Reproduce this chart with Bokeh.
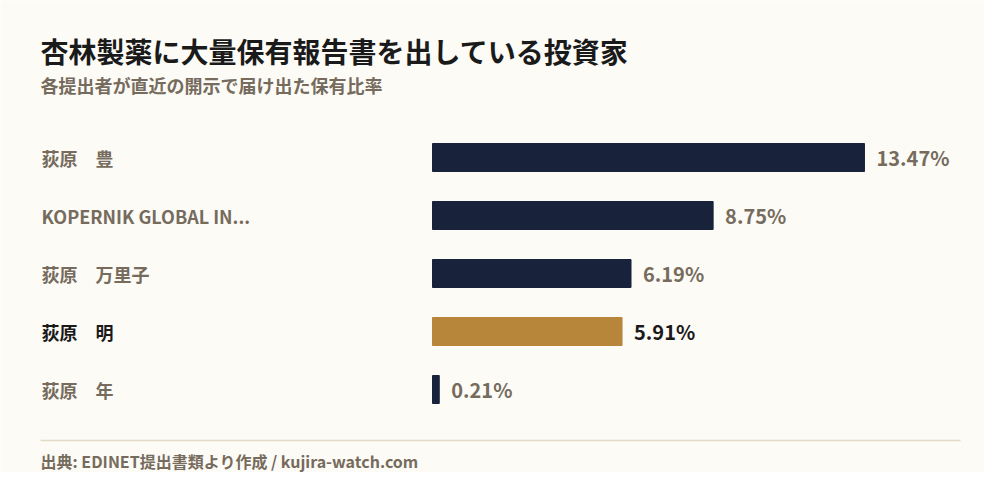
from bokeh.plotting import figure
from bokeh.models import ColumnDataSource, Label, Range1d
from bokeh.core.properties import value
from bokeh.embed import file_html
from bokeh.resources import INLINE

# -----------------------------
# DATA
# -----------------------------
names = ["荻原　豊", "KOPERNIK GLOBAL IN...", "荻原　万里子", "荻原　明", "荻原　年"]
ratios = [13.47, 8.75, 6.19, 5.91, 0.21]
ratio_labels = ["13.47%", "8.75%", "6.19%", "5.91%", "0.21%"]
highlight = [False, False, False, True, False]

title_text = "杏林製薬に大量保有報告書を出している投資家"
subtitle_text = "各提出者が直近の開示で届け出た保有比率"
source_text = "出典: EDINET提出書類より作成 / kujira-watch.com"

# -----------------------------
# LAYOUT (pixels)
# -----------------------------
W, H = 984, 472
X0 = 432            # where 0% sits
PX_PER_PCT = 32.07  # px per percentage point
ROW = 58            # row spacing
TOP_ROW = 157       # centre of first row from top
BAR_H = 28

FONT_NAME = "Noto Sans CJK JP"
FONT = value(FONT_NAME)
BG = "#fcfbf6"
NAVY = "#18223a"
GOLD = "#b8863b"
MUTED = "#766b5d"
INK = "#1a1a1a"

x_start = -X0 / PX_PER_PCT
x_end = (W - X0) / PX_PER_PCT
y_top = -TOP_ROW / ROW
y_bottom = y_top + H / ROW


def px_x(px):
    return (px - X0) / PX_PER_PCT


def px_y(px_from_top):
    return y_top + px_from_top / ROW


src = ColumnDataSource(data=dict(
    idx=list(range(len(names))),
    name=names,
    ratio=ratios,
    label=ratio_labels,
    bar_color=[GOLD if h else NAVY for h in highlight],
    text_color=[INK if h else MUTED for h in highlight],
))

p = figure(
    width=W, height=H,
    x_range=Range1d(x_start, x_end),
    y_range=Range1d(y_bottom, y_top),
    output_backend="svg",
    toolbar_location=None,
    min_border=0,
)
p.axis.visible = False
p.grid.visible = False
p.outline_line_color = None
p.background_fill_color = BG
p.border_fill_color = BG

# bars
p.hbar(y="idx", left=0, right="ratio", height=BAR_H / ROW,
       color="bar_color", source=src)

# value labels
p.text(x="ratio", y="idx", text="label", source=src, x_offset=12,
       text_baseline="middle", text_align="left", text_color="text_color",
       text_font=FONT, text_font_size="20px", text_font_style="bold")

# names
p.text(x=px_x(41), y="idx", text="name", source=src,
       text_baseline="middle", text_align="left", text_color="text_color",
       text_font=FONT, text_font_size="18px", text_font_style="bold")

# separator + header / footer
p.segment(x0=px_x(40), x1=px_x(960), y0=px_y(440), y1=px_y(440),
          line_color="#e2dac6", line_width=1.5)

p.add_layout(Label(x=40, y=H - 50, x_units="screen", y_units="screen",
                   text=title_text, text_font=FONT_NAME, text_font_size="28px",
                   text_font_style="bold", text_color=INK,
                   text_baseline="middle"))
p.add_layout(Label(x=40, y=H - 84, x_units="screen", y_units="screen",
                   text=subtitle_text, text_font=FONT_NAME, text_font_size="18px",
                   text_font_style="bold", text_color=MUTED,
                   text_baseline="middle"))
p.add_layout(Label(x=40, y=H - 460, x_units="screen", y_units="screen",
                   text=source_text, text_font=FONT_NAME, text_font_size="16px",
                   text_font_style="bold", text_color=MUTED,
                   text_baseline="middle"))

open("out.html", "w").write(file_html(p, INLINE))
